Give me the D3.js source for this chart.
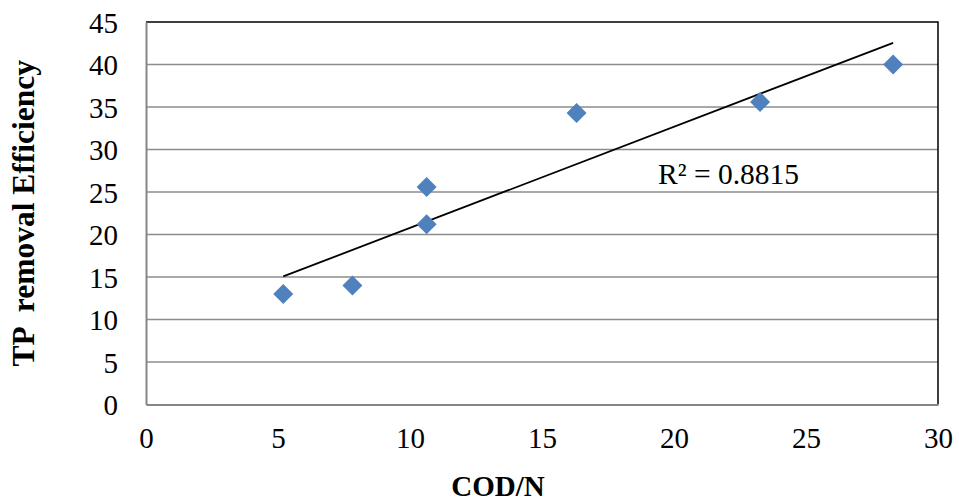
<!DOCTYPE html>
<html>
<head>
<meta charset="utf-8">
<script src="https://cdn.jsdelivr.net/npm/d3@7"></script>
<style>
  html, body { margin: 0; padding: 0; background: #fff; }
  svg { display: block; }
</style>
</head>
<body>
<svg id="chart" width="959" height="502"></svg>
<script>
const codN = [5.2, 7.82, 10.63, 10.63, 16.31, 23.26, 28.3];
const tpEfficiency = [13.0, 14.0, 25.6, 21.2, 34.3, 35.6, 40.0];
const xTicks = [0, 5, 10, 15, 20, 25, 30];
const yTicks = [0, 5, 10, 15, 20, 25, 30, 35, 40, 45];
const xTitle = "COD/N";
const yTitle = "TP  removal Efficiency";
const r2Label = "R² = 0.8815";

(function () {
const svg = d3.select("#chart");
const pL = 146, pR = 938, pT = 22, pB = 404.5;
const x = d3.scaleLinear().domain([0, 30]).range([pL, pR]);
const y = d3.scaleLinear().domain([0, 45]).range([pB, pT]);
const serif = "'Liberation Serif', 'Times New Roman', serif";

// gridlines
svg.append("g").selectAll("line").data(yTicks.filter(d => d > 0 && d < 45)).join("line")
  .attr("x1", pL).attr("x2", pR)
  .attr("y1", d => y(d)).attr("y2", d => y(d))
  .attr("stroke", "#8c8c8c").attr("stroke-width", 1.5);

// plot border top/right black
svg.append("path")
  .attr("d", `M${pL},${pT}H${pR}V${pB}`)
  .attr("fill", "none").attr("stroke", "#000").attr("stroke-width", 1.5);

// axes
const xAxis = d3.axisBottom(x).tickValues(xTicks).tickSize(0).tickPadding(19);
const gx = svg.append("g").attr("transform", `translate(0,${pB})`).call(xAxis);
gx.select(".domain").attr("stroke", "#868686").attr("stroke-width", 2);
gx.selectAll("text").attr("font-family", serif).attr("font-size", 29).attr("fill", "#000")
  .attr("dy", "0.85em");

const yAxis = d3.axisLeft(y).tickValues(yTicks).tickSize(0).tickPadding(28);
const gy = svg.append("g").attr("transform", `translate(${pL},0)`).call(yAxis);
gy.select(".domain").attr("stroke", "#868686").attr("stroke-width", 2);
gy.selectAll("text").attr("font-family", serif).attr("font-size", 29).attr("fill", "#000")
  .attr("dy", "0.35em");

// trendline (least squares from data)
const n = codN.length;
const mx = d3.mean(codN), my = d3.mean(tpEfficiency);
let sxy = 0, sxx = 0;
for (let i = 0; i < n; i++) { sxy += (codN[i]-mx)*(tpEfficiency[i]-my); sxx += (codN[i]-mx)**2; }
const slope = sxy / sxx, intercept = my - slope * mx;
const [xmin, xmax] = d3.extent(codN);
svg.append("line")
  .attr("x1", x(xmin)).attr("y1", y(intercept + slope * xmin))
  .attr("x2", x(xmax)).attr("y2", y(intercept + slope * xmax))
  .attr("stroke", "#000").attr("stroke-width", 1.8);

// markers
const pts = codN.map((d, i) => [d, tpEfficiency[i]]);
svg.append("g").selectAll("path").data(pts).join("path")
  .attr("transform", d => `translate(${x(d[0])},${y(d[1])})`)
  .attr("d", "M0,-10L10,0L0,10L-10,0Z")
  .attr("fill", "#4f81bd");

// R² label
svg.append("text").attr("x", 658).attr("y", 184)
  .attr("font-family", serif).attr("font-size", 29.5).attr("fill", "#000")
  .text(r2Label);

// titles
svg.append("text").attr("x", 498).attr("y", 496).attr("text-anchor", "middle")
  .attr("font-family", serif).attr("font-size", 29).attr("font-weight", "bold")
  .text(xTitle);
svg.append("text").attr("transform", `translate(34,${(pT + pB) / 2}) rotate(-90)`)
  .attr("text-anchor", "middle")
  .attr("font-family", serif).attr("font-size", 31.5).attr("font-weight", "bold")
  .style("white-space", "pre")
  .text(yTitle);
})();
</script>
</body>
</html>
